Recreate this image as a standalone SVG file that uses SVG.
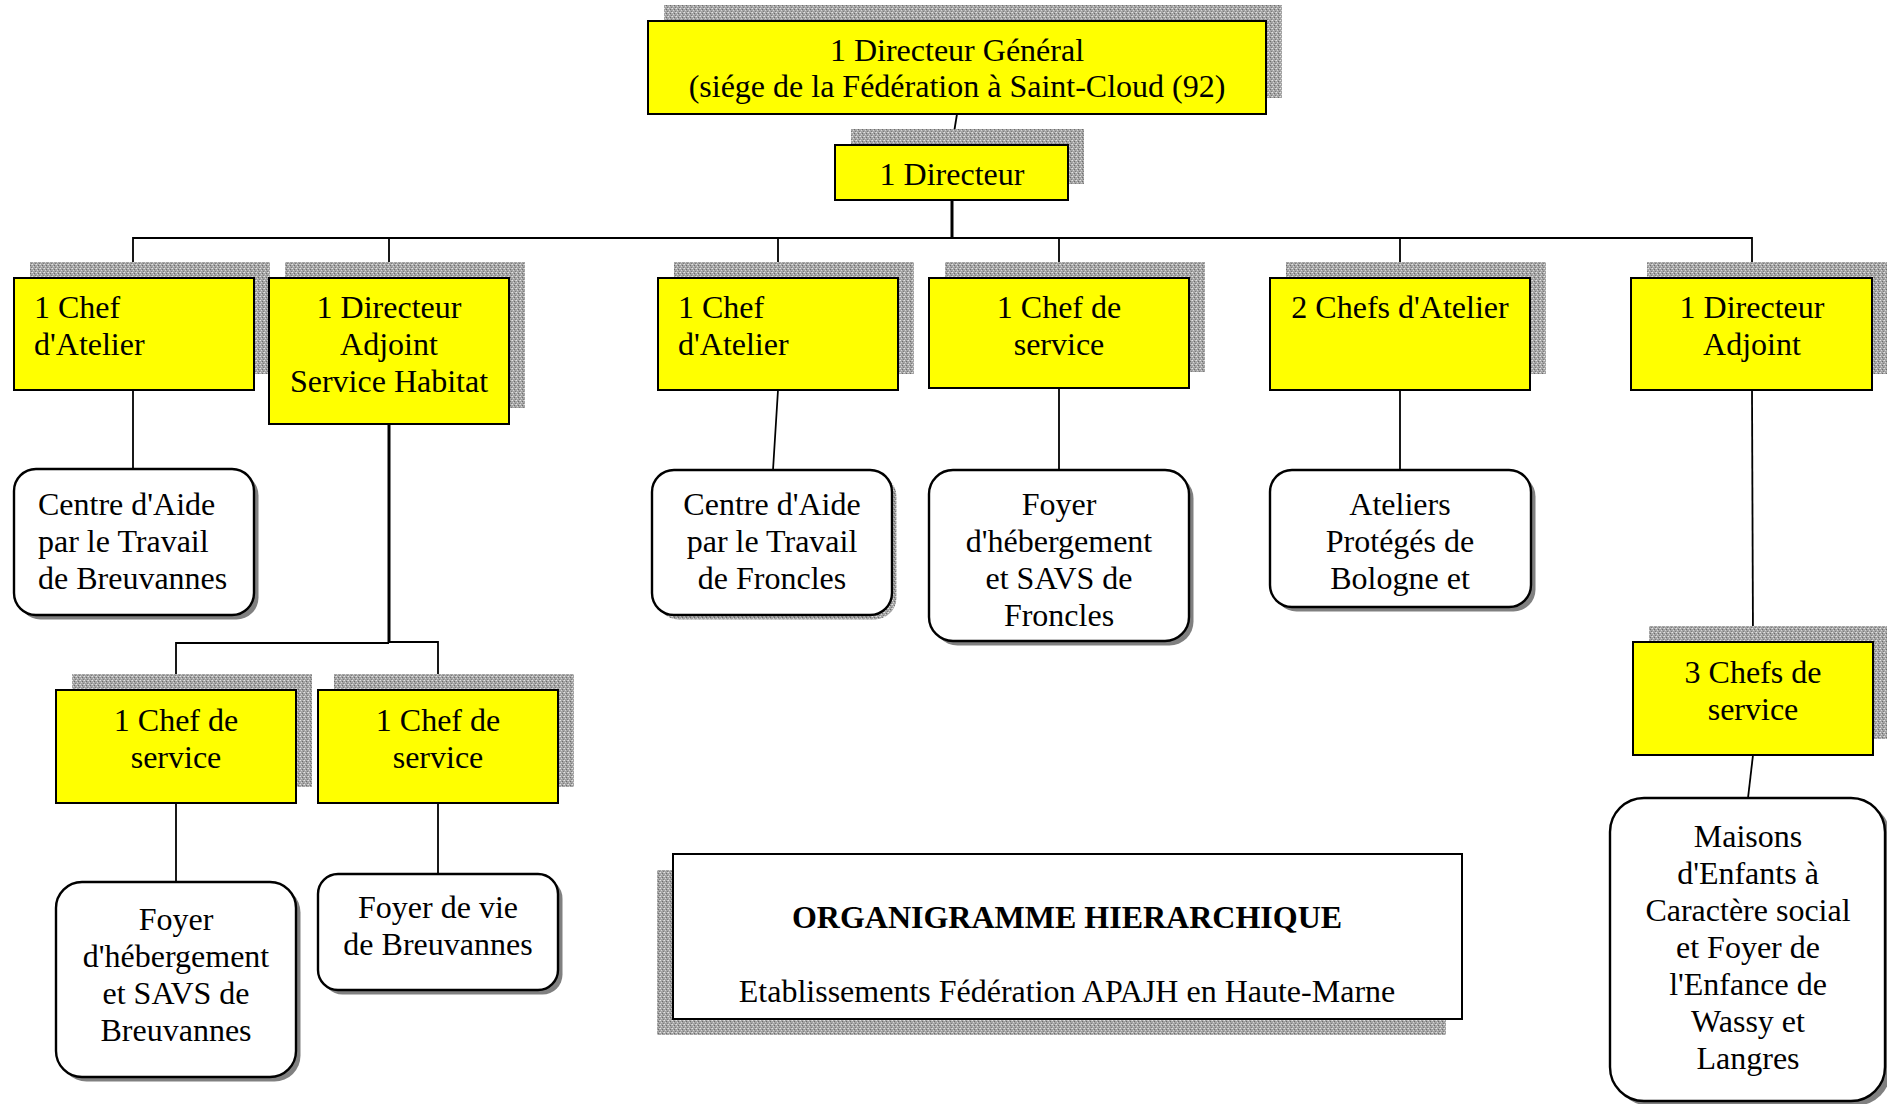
<svg xmlns="http://www.w3.org/2000/svg" width="1887" height="1104" viewBox="0 0 1887 1104">
<defs>
<pattern id="stip" width="4" height="4" patternUnits="userSpaceOnUse">
<rect width="4" height="4" fill="#a4a4a4"/>
<rect x="0" y="0" width="1" height="1" fill="#e2e2e2"/>
<rect x="2" y="1" width="1" height="1" fill="#6c6c6c"/>
<rect x="1" y="2" width="1" height="1" fill="#d4d4d4"/>
<rect x="3" y="3" width="1" height="1" fill="#7c7c7c"/>
<rect x="3" y="0" width="1" height="1" fill="#c8c8c8"/>
</pattern>
<style>
.sh{fill:url(#stip);}
.rs{fill:#808080;}
.yb{fill:#ffff00;stroke:#000;stroke-width:2;}
.wb{fill:#fff;stroke:#000;stroke-width:2.4;}
.t{font-family:"Liberation Serif","Times New Roman",serif;font-size:32px;fill:#000;}
.c{text-anchor:middle;}
.b{font-weight:bold;}
.ln{fill:none;stroke:#000;stroke-width:1.8;}
.lt{fill:none;stroke:#000;stroke-width:3;}
</style>
</defs>
<rect width="1887" height="1104" fill="#fff"/>

<g id="connectors">
<path class="ln" d="M957,114 L952,145"/>
<path class="lt" d="M952,200 V238"/>
<path class="ln" d="M133,278 V238 H1752 V278"/>
<path class="ln" d="M389,238 V278"/>
<path class="ln" d="M778,238 V278"/>
<path class="ln" d="M1059,238 V278"/>
<path class="ln" d="M1400,238 V278"/>
<path class="ln" d="M133,390 V469"/>
<path class="lt" d="M389,424 V643"/>
<path class="ln" d="M176,690 V643 H389"/>
<path class="ln" d="M389,642 H438 V690"/>
<path class="ln" d="M176,803 V882"/>
<path class="ln" d="M438,803 V874"/>
<path class="ln" d="M778,390 L773,470"/>
<path class="ln" d="M1059,388 V470"/>
<path class="ln" d="M1400,390 V470"/>
<path class="ln" d="M1752,390 L1753,642"/>
<path class="ln" d="M1753,755 L1748,798"/>
</g>

<g id="dg">
<rect class="sh" x="664" y="5" width="618" height="93"/>
<rect class="yb" x="648" y="21" width="618" height="93"/>
<text class="t c" x="957" y="60.5">1 Directeur Général</text>
<text class="t c" x="957" y="97">(siége de la Fédération à Saint-Cloud (92)</text>
</g>

<g id="directeur">
<rect class="sh" x="851" y="129" width="233" height="55"/>
<rect class="yb" x="835" y="145" width="233" height="55"/>
<text class="t c" x="952" y="185">1 Directeur</text>
</g>

<g id="chef-atelier-1">
<rect class="sh" x="30" y="262" width="240" height="112"/>
<rect class="yb" x="14" y="278" width="240" height="112"/>
<text class="t" x="34" y="317.5">1 Chef</text>
<text class="t" x="34" y="354.6">d'Atelier</text>
</g>

<g id="dir-adjoint-habitat">
<rect class="sh" x="285" y="262" width="240" height="146"/>
<rect class="yb" x="269" y="278" width="240" height="146"/>
<text class="t c" x="389" y="317.5">1 Directeur</text>
<text class="t c" x="389" y="354.6">Adjoint</text>
<text class="t c" x="389" y="391.7">Service Habitat</text>
</g>

<g id="chef-atelier-2">
<rect class="sh" x="674" y="262" width="240" height="112"/>
<rect class="yb" x="658" y="278" width="240" height="112"/>
<text class="t" x="678" y="317.5">1 Chef</text>
<text class="t" x="678" y="354.6">d'Atelier</text>
</g>

<g id="chef-service-froncles">
<rect class="sh" x="945" y="262" width="260" height="110"/>
<rect class="yb" x="929" y="278" width="260" height="110"/>
<text class="t c" x="1059" y="317.5">1 Chef de</text>
<text class="t c" x="1059" y="354.6">service</text>
</g>

<g id="chefs-atelier-2">
<rect class="sh" x="1286" y="262" width="260" height="112"/>
<rect class="yb" x="1270" y="278" width="260" height="112"/>
<text class="t c" x="1400" y="317.5">2 Chefs d'Atelier</text>
</g>

<g id="dir-adjoint">
<rect class="sh" x="1647" y="262" width="241" height="112"/>
<rect class="yb" x="1631" y="278" width="241" height="112"/>
<text class="t c" x="1752" y="317.5">1 Directeur</text>
<text class="t c" x="1752" y="354.6">Adjoint</text>
</g>

<g id="cat-breuvannes">
<rect class="rs" x="18.5" y="473.5" width="240" height="146" rx="22"/>
<rect class="wb" x="14" y="469" width="240" height="146" rx="22"/>
<text class="t" x="38" y="515">Centre d'Aide</text>
<text class="t" x="38" y="552.1">par le Travail</text>
<text class="t" x="38" y="589.2">de Breuvannes</text>
</g>

<g id="cat-froncles">
<rect class="sh" x="656.5" y="474.5" width="240" height="145" rx="22"/>
<rect class="wb" x="652" y="470" width="240" height="145" rx="22"/>
<text class="t c" x="772" y="515">Centre d'Aide</text>
<text class="t c" x="772" y="552.1">par le Travail</text>
<text class="t c" x="772" y="589.2">de Froncles</text>
</g>

<g id="foyer-froncles">
<rect class="rs" x="933.5" y="474.5" width="260" height="171" rx="24"/>
<rect class="wb" x="929" y="470" width="260" height="171" rx="24"/>
<text class="t c" x="1059" y="515">Foyer</text>
<text class="t c" x="1059" y="552.1">d'hébergement</text>
<text class="t c" x="1059" y="589.2">et SAVS de</text>
<text class="t c" x="1059" y="626.3">Froncles</text>
</g>

<g id="ateliers-proteges">
<rect class="rs" x="1274.5" y="474.5" width="261" height="137" rx="22"/>
<rect class="wb" x="1270" y="470" width="261" height="137" rx="22"/>
<text class="t c" x="1400" y="515">Ateliers</text>
<text class="t c" x="1400" y="552.1">Protégés de</text>
<text class="t c" x="1400" y="589.2">Bologne et</text>
</g>

<g id="chef-service-a">
<rect class="sh" x="72" y="674" width="240" height="113"/>
<rect class="yb" x="56" y="690" width="240" height="113"/>
<text class="t c" x="176" y="730.5">1 Chef de</text>
<text class="t c" x="176" y="767.6">service</text>
</g>

<g id="chef-service-b">
<rect class="sh" x="334" y="674" width="240" height="113"/>
<rect class="yb" x="318" y="690" width="240" height="113"/>
<text class="t c" x="438" y="730.5">1 Chef de</text>
<text class="t c" x="438" y="767.6">service</text>
</g>

<g id="foyer-breuvannes">
<rect class="rs" x="60.5" y="886.5" width="240" height="195" rx="26"/>
<rect class="wb" x="56" y="882" width="240" height="195" rx="26"/>
<text class="t c" x="176" y="929.5">Foyer</text>
<text class="t c" x="176" y="966.6">d'hébergement</text>
<text class="t c" x="176" y="1003.7">et SAVS de</text>
<text class="t c" x="176" y="1040.8">Breuvannes</text>
</g>

<g id="foyer-vie">
<rect class="rs" x="322.5" y="878.5" width="240" height="116" rx="20"/>
<rect class="wb" x="318" y="874" width="240" height="116" rx="20"/>
<text class="t c" x="438" y="917.5">Foyer de vie</text>
<text class="t c" x="438" y="954.6">de Breuvannes</text>
</g>

<g id="chefs-service-3">
<rect class="sh" x="1649" y="626" width="240" height="113"/>
<rect class="yb" x="1633" y="642" width="240" height="113"/>
<text class="t c" x="1753" y="682.5">3 Chefs de</text>
<text class="t c" x="1753" y="719.6">service</text>
</g>

<g id="maisons-enfants">
<rect class="rs" x="1614.5" y="802.5" width="276" height="303" rx="34"/>
<rect class="wb" x="1610" y="798" width="275" height="303" rx="34"/>
<text class="t c" x="1748" y="846.7">Maisons</text>
<text class="t c" x="1748" y="883.8">d'Enfants à</text>
<text class="t c" x="1748" y="920.9">Caractère social</text>
<text class="t c" x="1748" y="958">et Foyer de</text>
<text class="t c" x="1748" y="995.1">l'Enfance de</text>
<text class="t c" x="1748" y="1032.2">Wassy et</text>
<text class="t c" x="1748" y="1069.3">Langres</text>
</g>

<g id="title">
<rect class="sh" x="657" y="870" width="789" height="165"/>
<rect x="673" y="854" width="789" height="165" fill="#fff" stroke="#000" stroke-width="2"/>
<text class="t c b" x="1067" y="928.3">ORGANIGRAMME HIERARCHIQUE</text>
<text class="t c" x="1067" y="1001.7">Etablissements Fédération APAJH en Haute-Marne</text>
</g>
</svg>
